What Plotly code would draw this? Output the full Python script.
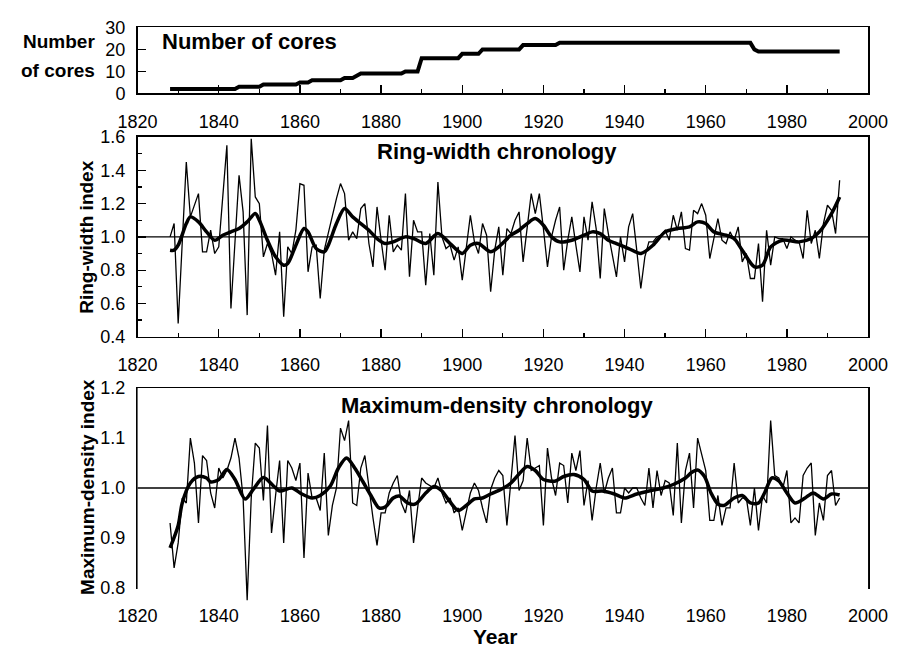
import plotly.graph_objects as go

W, H = 911, 657


def px(x):
    return x / W


def py(y):
    return 1 - y / H


# ---------------- data ----------------
core_years = [1828, 1844, 1845, 1850, 1851, 1859, 1860, 1862, 1863, 1870, 1871, 1873,
              1875, 1885, 1886, 1889, 1890, 1899, 1900, 1904, 1905, 1914, 1915, 1923,
              1924, 1971, 1972, 1973, 1993]
core_counts = [2, 2, 3, 3, 4, 4, 5, 5, 6, 6, 7, 7,
               9, 9, 10, 10, 16, 16, 18, 18, 20, 20, 22, 22,
               23, 23, 20, 19, 19]

years = list(range(1828, 1994))

ring_width = [
    1.00, 1.08,
    0.48, 0.98, 1.45, 1.12, 1.19, 1.26, 0.91, 0.91, 1.04, 0.90,
    0.94, 1.22, 1.55, 0.57, 0.95, 1.37, 1.15, 0.53, 1.59, 1.24,
    1.20, 0.88, 0.96, 0.90, 0.77, 1.03, 0.52, 0.94, 0.90, 1.04,
    1.32, 1.31, 0.79, 0.94, 0.95, 0.63, 0.92, 1.03, 1.13, 1.23,
    1.32, 1.26, 0.98, 1.03, 0.99, 1.17, 1.20, 0.96, 0.82, 1.18,
    0.98, 0.80, 1.13, 0.91, 0.95, 0.92, 1.26, 0.76, 1.10, 1.03,
    1.03, 0.71, 1.02, 0.77, 1.33, 1.00, 0.93, 0.95, 0.86, 0.94,
    0.74, 0.95, 1.13, 0.97, 0.90, 1.08, 1.01, 0.67, 0.92, 1.06,
    0.77, 1.05, 1.02, 1.10, 1.15, 0.85, 1.05, 1.26, 1.14, 1.26,
    1.05, 0.82, 1.00, 1.10, 1.18, 0.80, 0.98, 1.12, 0.95, 0.79,
    1.12, 0.98, 1.21, 1.05, 0.75, 1.17, 1.02, 0.90, 0.76, 1.00,
    0.85, 1.06, 1.14, 0.92, 0.69, 0.88, 0.97, 0.97, 1.00, 1.01,
    1.04, 0.98, 1.13, 1.04, 1.15, 0.93, 0.92, 1.16, 1.14, 1.20,
    1.13, 0.87, 1.00, 1.11, 0.98, 0.96, 1.03, 0.98, 1.06, 0.85,
    0.90, 0.75, 0.75, 0.96, 0.61, 1.04, 0.83, 1.00, 0.99, 0.99,
    0.93, 1.00, 0.98, 0.97, 0.87, 1.16, 0.96, 1.04, 0.87, 1.08,
    1.19, 1.16, 1.02, 1.34,
]

rw_smooth_years = [1828, 1829, 1830, 1832, 1833, 1835, 1837, 1839, 1841, 1843, 1845, 1847,
                   1849, 1850, 1852, 1854, 1856, 1857, 1859, 1861, 1862, 1864, 1866, 1867,
                   1869, 1871, 1873, 1875, 1877, 1879, 1881, 1883, 1886, 1888, 1891, 1894,
                   1897, 1900, 1902, 1904, 1907, 1909, 1912, 1914, 1916, 1918, 1920, 1922,
                   1924, 1927, 1930, 1932, 1934, 1936, 1938, 1941, 1944, 1947, 1950, 1953,
                   1956, 1958, 1960, 1962, 1965, 1967, 1969, 1972, 1974, 1976, 1979, 1983,
                   1986, 1988, 1991, 1993]
rw_smooth = [0.92, 0.92, 0.95, 1.08, 1.12, 1.09, 1.03, 0.98, 1.01, 1.03, 1.05, 1.09,
             1.14, 1.10, 0.98, 0.88, 0.83, 0.84, 0.95, 1.05, 1.03, 0.93, 0.91, 0.95,
             1.08, 1.17, 1.12, 1.08, 1.04, 0.99, 0.96, 0.97, 1.00, 0.99, 0.96, 1.02,
             0.96, 0.90, 0.95, 0.96, 0.91, 0.94, 1.01, 1.04, 1.08, 1.11, 1.07, 1.00,
             0.97, 0.98, 1.01, 1.03, 1.02, 0.98, 0.96, 0.93, 0.90, 0.95, 1.03, 1.05,
             1.06, 1.09, 1.08, 1.03, 1.01, 0.99, 0.92, 0.82, 0.83, 0.94, 0.98, 0.97,
             0.99, 1.03, 1.14, 1.24]

max_density = [
    0.93, 0.84,
    0.89, 0.98, 0.97, 1.10, 1.05, 0.93, 1.065, 1.055, 0.99, 0.96,
    1.04, 1.02, 1.035, 1.06, 1.10, 1.06, 0.98, 0.775, 0.98, 1.09,
    1.08, 0.975, 1.125, 0.91, 0.985, 1.055, 0.89, 1.055, 1.04, 1.015,
    1.05, 0.86, 1.03, 0.98, 0.98, 0.955, 1.07, 0.905, 0.965, 1.00,
    1.12, 1.095, 1.135, 0.97, 0.965, 1.04, 1.065, 1.00, 0.94, 0.885,
    0.95, 0.95, 0.99, 1.01, 1.025, 0.97, 0.95, 0.995, 0.89, 0.96,
    1.02, 1.01, 1.005, 1.00, 1.02, 0.99, 0.97, 0.98, 0.95, 0.96,
    0.915, 0.95, 0.99, 1.01, 0.995, 0.96, 0.93, 0.997, 1.02, 1.035,
    1.025, 0.925, 1.02, 1.105, 0.995, 1.015, 1.10, 1.035, 1.04, 1.045,
    0.925, 1.08, 1.02, 0.985, 1.05, 1.045, 0.97, 1.07, 1.035, 1.075,
    0.965, 1.015, 0.935, 1.00, 1.05, 0.99, 1.02, 1.04, 0.95, 0.95,
    1.00, 0.99, 1.00, 1.00, 0.98, 0.965, 1.04, 0.96, 1.035, 0.985,
    1.015, 1.01, 0.945, 1.09, 0.93, 1.035, 1.07, 0.96, 1.10, 1.065,
    1.035, 0.935, 0.935, 0.985, 0.925, 0.96, 0.96, 1.05, 0.97, 0.98,
    0.98, 0.925, 1.00, 0.915, 0.985, 0.97, 1.135, 1.025, 1.02, 1.00,
    1.035, 0.93, 0.94, 0.93, 1.025, 1.04, 1.05, 0.905, 0.97, 0.935,
    1.025, 1.035, 0.965, 0.98,
]

md_smooth_years = [1828, 1830, 1831, 1833, 1835, 1837, 1838, 1840, 1842, 1844, 1846.5, 1848.5,
                   1851, 1853.5, 1855, 1858, 1860.5, 1863, 1865, 1867.5, 1869.5, 1871.5, 1873.5,
                   1875.5, 1877.5, 1879.5, 1881, 1883, 1884.5, 1886.5, 1888.5, 1891, 1893,
                   1895, 1897, 1899, 1901, 1903, 1905, 1907, 1909.5, 1912, 1914, 1916, 1918,
                   1920, 1923, 1925, 1927.5, 1930, 1932, 1934.5, 1937.5, 1940, 1943, 1946,
                   1949.5, 1952, 1955, 1956.5, 1958, 1959.7, 1961.3, 1963, 1964.5, 1967, 1969,
                   1971, 1973, 1974.5, 1976.3, 1978, 1980, 1982, 1984.5, 1986.5, 1989, 1991,
                   1993]
md_smooth = [0.88, 0.925, 0.97, 1.01, 1.023, 1.02, 1.012, 1.017, 1.037, 1.017, 0.978, 0.997,
             1.021, 1.004, 0.994, 1.0, 0.988, 0.98, 0.985, 1.004, 1.04, 1.06, 1.04,
             1.013, 0.985, 0.96, 0.962, 0.98, 0.984, 0.97, 0.968, 0.99, 1.003,
             0.994, 0.972, 0.955, 0.965, 0.978, 0.98, 0.988, 0.997, 1.01, 1.028, 1.043, 1.035,
             1.017, 1.014, 1.023, 1.027, 1.017, 0.994, 0.994, 0.988, 0.98, 0.988, 0.994,
             1.0, 1.007, 1.02, 1.031, 1.036, 1.023, 0.99, 0.968, 0.965, 0.98, 0.985,
             0.97, 0.97, 0.99, 1.02, 1.014, 0.99, 0.97, 0.98, 0.99, 0.978, 0.988,
             0.986]

REF_INDEX = 1.0
CORE_RANGE = [0, 30]
RW_RANGE = [0.4, 1.6]
MD_RANGE = [0.8, 1.2]

# ---------------- figure ----------------
FONT = "Liberation Sans, Arial, Helvetica, sans-serif"
fig = go.Figure()

# panel pixel boxes (layout only)
X_LEFT, X_RIGHT = 123, 887
TOP_BOX = (18, 86)
MID_BOX = (131, 337)
BOT_BOX = (390, 596)
BOT_OVERHANG = 16  # the density curve runs a little below the frame in the original

fig.add_trace(go.Scatter(x=core_years, y=core_counts, xaxis="x", yaxis="y", mode="lines",
                         line=dict(color="black", width=4), hoverinfo="skip"))
fig.add_trace(go.Scatter(x=years, y=ring_width, xaxis="x2", yaxis="y2", mode="lines",
                         line=dict(color="black", width=1.3), hoverinfo="skip"))
fig.add_trace(go.Scatter(x=rw_smooth_years, y=rw_smooth, xaxis="x2", yaxis="y2", mode="lines",
                         line=dict(color="black", width=3.5, shape="spline", smoothing=0.8),
                         hoverinfo="skip"))
fig.add_trace(go.Scatter(x=years, y=max_density, xaxis="x3", yaxis="y4", mode="lines",
                         line=dict(color="black", width=1.3), hoverinfo="skip"))
fig.add_trace(go.Scatter(x=md_smooth_years, y=md_smooth, xaxis="x3", yaxis="y4", mode="lines",
                         line=dict(color="black", width=3.5, shape="spline", smoothing=0.8),
                         hoverinfo="skip"))

xdom = [px(X_LEFT), px(X_RIGHT)]

TICKFONT = dict(size=18, color="black", family=FONT)
xcommon = dict(
    range=[1820, 2000], domain=xdom, tickmode="linear", tick0=1820, dtick=20,
    ticks="inside", ticklen=8, tickwidth=1.3, tickcolor="black",
    minor=dict(tick0=1820, dtick=10, ticks="inside", ticklen=4, tickwidth=1.3, tickcolor="black"),
    showline=True, mirror=True, linecolor="black", linewidth=1.6,
    showgrid=False, zeroline=False, tickfont=TICKFONT,
    ticklabelstandoff=11, fixedrange=True,
)
ycommon = dict(
    ticks="inside", ticklen=8, tickwidth=1.3, tickcolor="black",
    showline=True, mirror=True, linecolor="black", linewidth=1.6,
    showgrid=False, zeroline=False, tickfont=TICKFONT,
    ticklabelstandoff=7, fixedrange=True,
)

md_span = MD_RANGE[1] - MD_RANGE[0]
md_px = BOT_BOX[1] - BOT_BOX[0]
md_low_ext = MD_RANGE[0] - md_span * BOT_OVERHANG / md_px

fig.update_layout(
    width=W, height=H, margin=dict(l=0, r=0, t=0, b=0),
    paper_bgcolor="white", plot_bgcolor="white", showlegend=False,
    hovermode=False,
    font=dict(family=FONT, color="black"),
    xaxis=dict(xcommon, anchor="y"),
    xaxis2=dict(xcommon, anchor="y2"),
    xaxis3=dict(xcommon, anchor="y3"),
    yaxis=dict(ycommon, anchor="x", domain=[py(TOP_BOX[1]), py(TOP_BOX[0])], range=CORE_RANGE,
               tickmode="array", tickvals=[0, 10, 20, 30]),
    yaxis2=dict(ycommon, anchor="x2", domain=[py(MID_BOX[1]), py(MID_BOX[0])], range=RW_RANGE,
                tickmode="linear", tick0=0.4, dtick=0.2, tickformat=".1f",
                minor=dict(tick0=0.4, dtick=0.1, ticks="inside", ticklen=4,
                           tickwidth=1.3, tickcolor="black")),
    yaxis3=dict(ycommon, anchor="x3", domain=[py(BOT_BOX[1]), py(BOT_BOX[0])], range=MD_RANGE,
                tickmode="linear", tick0=0.8, dtick=0.1, tickformat=".1f",
                minor=dict(tick0=0.8, dtick=0.05, ticks="inside", ticklen=4,
                           tickwidth=1.3, tickcolor="black")),
    # invisible twin of the density axis, same scale, taller so the deep 1847 dip is not cut
    yaxis4=dict(anchor="x3", domain=[py(BOT_BOX[1] + BOT_OVERHANG), py(BOT_BOX[0])],
                range=[md_low_ext, MD_RANGE[1]], visible=False, showgrid=False,
                zeroline=False, fixedrange=True),
)

# reference lines at index 1.0
for xa, ya in (("x2", "y2"), ("x3", "y3")):
    fig.add_shape(type="line", xref=f"{xa} domain", yref=ya, x0=0, x1=1,
                  y0=REF_INDEX, y1=REF_INDEX, line=dict(color="black", width=1.3))


def note(text, x, y, size, xanchor="center", textangle=0, align="center"):
    fig.add_annotation(text=text, xref="paper", yref="paper", x=px(x), y=py(y),
                       xanchor=xanchor, yanchor="middle", showarrow=False,
                       textangle=textangle, align=align,
                       font=dict(size=size, color="black", family=FONT))


note("<b>Number of cores</b>", 146, 33, 22, xanchor="left")
note("<b>Number</b>", 81, 33, 19, xanchor="right")
note("<b>of cores</b>", 81, 62, 19, xanchor="right")
note("<b>Ring-width chronology</b>", 499, 146, 22)
note("<b>Ring-width index</b>", 70, 234, 19, textangle=-90)
note("<b>Maximum-density chronology</b>", 499, 408, 22)
note("<b>Maximum-density index</b>", 70, 492, 19, textangle=-90)
note("<b>Year</b>", 497, 646, 21)

fig.write_html(
    "out.html",
    config={"displayModeBar": False, "staticPlot": True},
    post_script="document.body.style.margin='0';"
                "document.documentElement.style.overflow='hidden';",
)
